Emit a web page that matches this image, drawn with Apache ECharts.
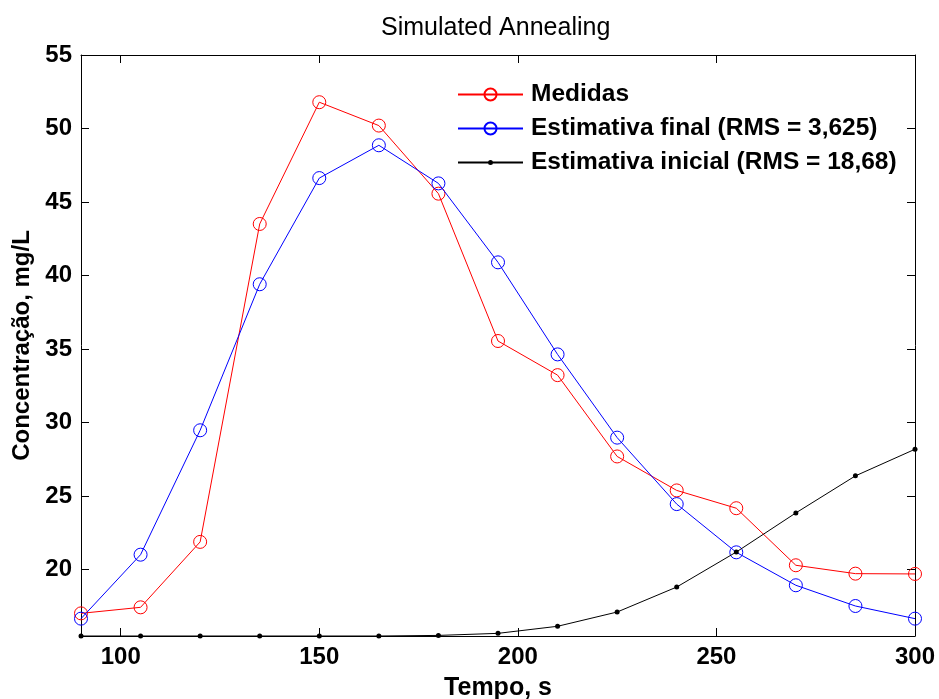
<!DOCTYPE html>
<html>
<head>
<meta charset="utf-8">
<script src="https://cdn.jsdelivr.net/npm/echarts@6/dist/echarts.min.js"></script>
<style>html,body{margin:0;padding:0;background:#fff;overflow:hidden}#c{width:939px;height:699px}</style>
</head>
<body>
<div id="c"></div>
<script>
var tempo = [90,105,120,135,150,165,180,195,210,225,240,255,270,285,300];
var medidas = [17.03,17.44,21.89,43.51,51.79,50.2,45.57,35.55,33.23,27.7,25.39,24.18,20.3,19.73,19.71];
var estFinal = [16.67,21.02,29.48,39.41,46.63,48.86,46.27,40.9,34.64,28.98,24.46,21.18,18.94,17.53,16.67];
var estInicial = [15.49,15.49,15.49,15.49,15.49,15.49,15.53,15.67,16.15,17.12,18.82,21.2,23.86,26.38,28.19];
var xTicks = [100,150,200,250,300];
var yTicks = [20,25,30,35,40,45,50,55];
var xMin = 90, xMax = 300, yMin = 15.49, yMax = 55;
var names = ['Medidas','Estimativa final (RMS = 3,625)','Estimativa inicial (RMS = 18,68)'];

function pairs(v){ return tempo.map(function(t,i){ return [t, v[i]]; }); }

var font = 'Liberation Sans, Arial, sans-serif';
var chart = echarts.init(document.getElementById('c'));
var tickStyle = {show:true, inside:true, length:8, lineStyle:{color:'#000', width:1}};
var lineDotIcon = 'path://M0,0M65,15M0,6.5L65,6.5L65,8.5L0,8.5Z M32.5,5A2.5,2.5,0,1,1,32.5,10A2.5,2.5,0,1,1,32.5,5Z';
chart.setOption({
  animation:false,
  backgroundColor:'#fff',
  title:{text:'Simulated Annealing', left:381, top:16, padding:0, textStyle:{fontFamily:font, fontSize:25, fontWeight:'normal', color:'#000'}},
  grid:{left:81, top:55, width:834, height:581, show:false, outerBoundsMode:'none', containLabel:false},
  legend:{
    orient:'vertical', left:457, top:82, padding:0, itemWidth:65, itemHeight:15, itemGap:9,
    data:[{name:names[0]},{name:names[1]},{name:names[2], icon:lineDotIcon}],
    textStyle:{fontFamily:font, fontSize:24.5, fontWeight:'bold', color:'#000', lineHeight:24, padding:[0,0,0,3]},
    lineStyle:{width:2}
  },
  xAxis:[{
    type:'value', min:xMin, max:xMax, position:'bottom',
    name:'Tempo, s', nameLocation:'middle', nameGap:40,
    nameTextStyle:{fontFamily:font, fontSize:25, fontWeight:'bold', color:'#000'},
    axisLine:{show:true, onZero:false, lineStyle:{color:'#000', width:1}},
    axisTick:Object.assign({customValues:xTicks}, tickStyle),
    axisLabel:{customValues:xTicks, margin:9, fontFamily:font, fontSize:24, fontWeight:'bold', color:'#000'},
    splitLine:{show:false}
  },{
    type:'value', min:xMin, max:xMax, position:'top',
    axisLine:{show:true, onZero:false, lineStyle:{color:'#000', width:1}},
    axisTick:Object.assign({customValues:xTicks}, tickStyle),
    axisLabel:{show:false}, splitLine:{show:false}
  }],
  yAxis:[{
    type:'value', min:yMin, max:yMax, position:'left',
    name:'Concentração, mg/L', nameLocation:'middle', nameGap:46, nameRotate:90,
    nameTextStyle:{fontFamily:font, fontSize:24, fontWeight:'bold', color:'#000'},
    axisLine:{show:true, onZero:false, lineStyle:{color:'#000', width:1}},
    axisTick:Object.assign({customValues:yTicks}, tickStyle),
    axisLabel:{customValues:yTicks, margin:9, fontFamily:font, fontSize:24, fontWeight:'bold', color:'#000'},
    splitLine:{show:false}
  },{
    type:'value', min:yMin, max:yMax, position:'right',
    axisLine:{show:true, onZero:false, lineStyle:{color:'#000', width:1}},
    axisTick:Object.assign({customValues:yTicks}, tickStyle),
    axisLabel:{show:false}, splitLine:{show:false}
  }],
  series:[{
    name:names[0], type:'line', data:pairs(medidas),
    symbol:'circle', symbolSize:13, lineStyle:{color:'#ff0000', width:1},
    itemStyle:{color:'rgba(0,0,0,0)', borderColor:'#ff0000', borderWidth:1}, z:3
  },{
    name:names[1], type:'line', data:pairs(estFinal),
    symbol:'circle', symbolSize:13, lineStyle:{color:'#0000ff', width:1},
    itemStyle:{color:'rgba(0,0,0,0)', borderColor:'#0000ff', borderWidth:1}, z:4
  },{
    name:names[2], type:'line', data:pairs(estInicial),
    symbol:'circle', symbolSize:5, lineStyle:{color:'#000', width:1},
    itemStyle:{color:'#000'}, z:5
  }]
});
</script>
</body>
</html>
